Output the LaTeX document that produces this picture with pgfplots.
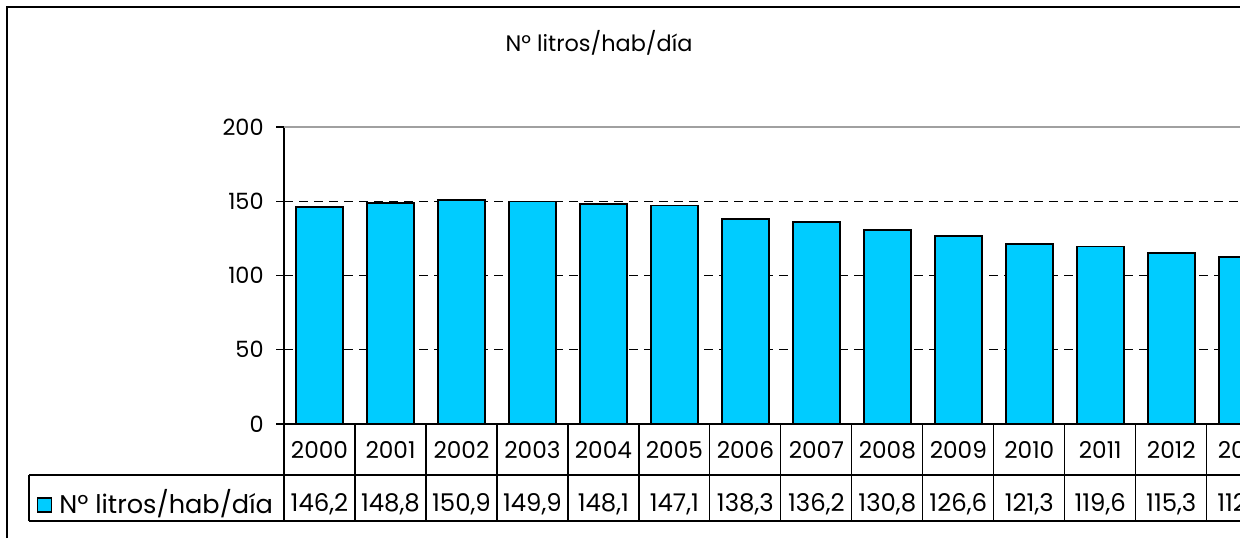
\documentclass[border=0pt]{standalone}
\usepackage{pgfplots}
\pgfplotsset{compat=1.18}
\usepackage{pgfplotstable}
\usepackage{fontspec}
\setmainfont{Poppins}
\definecolor{barcyan}{HTML}{00CCFF}
\definecolor{gridgray}{HTML}{A0A0A0}

\pgfplotstableread{
x year v
0 2000 146.2
1 2001 148.8
2 2002 150.9
3 2003 149.9
4 2004 148.1
5 2005 147.1
6 2006 138.3
7 2007 136.2
8 2008 130.8
9 2009 126.6
10 2010 121.3
11 2011 119.6
12 2012 115.3
13 2013 112.5
}\datatable

\begin{document}
\begin{tikzpicture}
\useasboundingbox (0,0) rectangle (620pt,269pt);
\clip (0,0) rectangle (620pt,269pt);
\fontsize{11.5pt}{13pt}\selectfont
\begin{axis}[
  at={(142pt,57pt)}, anchor=south west,
  scale only axis,
  width=496.86pt, height=148.5pt,
  xmin=-0.5, xmax=13.5,
  ymin=0, ymax=200,
  clip=false,
  axis lines*=left,
  axis line style={black, line width=0.75pt},
  ytick={0,50,100,150,200},
  xtick={0,...,13},
  xticklabels from table={\datatable}{year},
  xtick style={draw=none},
  ytick style={black, line width=0.6pt},
  tick align=outside,
  major tick length=4pt,
  ymajorgrids,
  grid style={black, line width=0.5pt, dash pattern=on 4.5pt off 3pt},
  /pgf/number format/assume math mode=true,
  y tick label style={anchor=east, inner sep=0pt, xshift=-6pt, font=\fontsize{11.2pt}{13pt}\selectfont},
  x tick label style={anchor=base, inner sep=0pt, yshift=-13pt, font=\fontsize{11.6pt}{13pt}\selectfont},
  ybar, bar width=23.5pt,
]
\draw[gridgray, line width=1pt] (axis cs:-0.5,200) -- (axis cs:13.5,200);
\addplot[fill=barcyan, draw=black, line width=0.9pt,
  visualization depends on=rawy\as\rawy,
  nodes near coords,
  every node near coord/.append style={
    anchor=base, inner sep=0pt, black,
    font=\fontsize{12.2pt}{14pt}\selectfont,
    yshift=-\rawy*0.7425pt-43.5pt,
    /pgf/number format/.cd, use comma, fixed, fixed zerofill, precision=1, assume math mode=true},
] table[x=x, y=v] {\datatable};
\end{axis}
% data table grid
\draw[black, line width=0.6pt] (14.5pt,31.5pt) -- (620pt,31.5pt);
\draw[black, line width=0.6pt] (14.5pt,8.5pt) -- (620pt,8.5pt);
\draw[black, line width=0.6pt] (14.5pt,8.5pt) -- (14.5pt,31.5pt);
\foreach \k in {0,...,14} {
  \draw[black, line width=0.6pt] (142pt+\k*35.49pt,8.5pt) -- (142pt+\k*35.49pt,57pt);
}
% legend key
\draw[fill=barcyan, line width=0.6pt] (18.85pt,13pt) rectangle (25.85pt,20pt);
\node[anchor=base west, inner sep=0pt] at (29.5pt,12.5pt) {\fontsize{12.8pt}{14pt}\selectfont Nº litros/hab/día};
% title
\node[anchor=base, inner sep=0pt] at (299.5pt,243.25pt) {\fontsize{11.2pt}{13pt}\selectfont Nº litros/hab/día};
% frame
\draw[black, line width=1pt] (3.5pt,0pt) -- (3.5pt,265.5pt) -- (620pt,265.5pt);
\end{tikzpicture}
\end{document}
